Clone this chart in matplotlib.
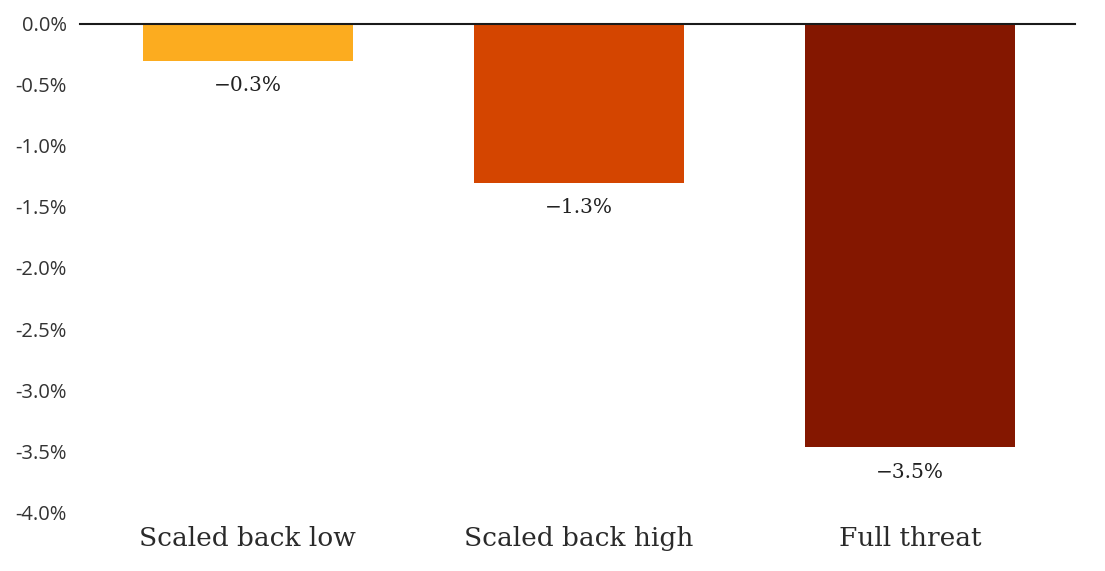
import matplotlib
matplotlib.use('Agg')
import matplotlib.pyplot as plt
from matplotlib.ticker import FuncFormatter

# 数据
categories = ["Scaled back low", "Scaled back high", "Full threat"]
values = [-0.3, -1.3, -3.47]
bar_labels = ["-0.3%", "-1.3%", "-3.5%"]
colors = ["#FCAC1F", "#D44500", "#841700"]

fig = plt.figure(figsize=(11.05, 5.71), dpi=100)
ax = fig.add_axes([0.0724, 0.1033, 0.9005, 0.8547])

x = list(range(len(categories)))
ax.bar(x, values, width=0.634, color=colors, zorder=2)
ax.axhline(0, color='#1a1a1a', linewidth=1.5, zorder=3, clip_on=False)

for xi, v, lab in zip(x, values, bar_labels):
    ax.annotate(lab.replace('-', '\u2212'), (xi, v), xytext=(0, -18), textcoords='offset points',
                ha='center', va='center', fontsize=14.5, family='DejaVu Serif', color='#222222')

ax.set_xlim(-0.507, 2.498)
ax.set_ylim(-4.0, 0.0)
ax.set_yticks([0, -0.5, -1.0, -1.5, -2.0, -2.5, -3.0, -3.5, -4.0])
ax.yaxis.set_major_formatter(FuncFormatter(lambda v, p: f"{v:.1f}%" if v != 0 else "0.0%"))
ax.set_xticks(x)
ax.set_xticklabels(categories, fontsize=19, family='DejaVu Serif', color='#2a2a2a')
ax.tick_params(axis='y', length=0, pad=9.5, labelsize=14.5, labelcolor='#333333')
ax.tick_params(axis='x', length=0, pad=10)
for lab in ax.get_yticklabels():
    lab.set_family('Open Sans')
for s in ax.spines.values():
    s.set_visible(False)

fig.savefig('out.png', dpi=100)
